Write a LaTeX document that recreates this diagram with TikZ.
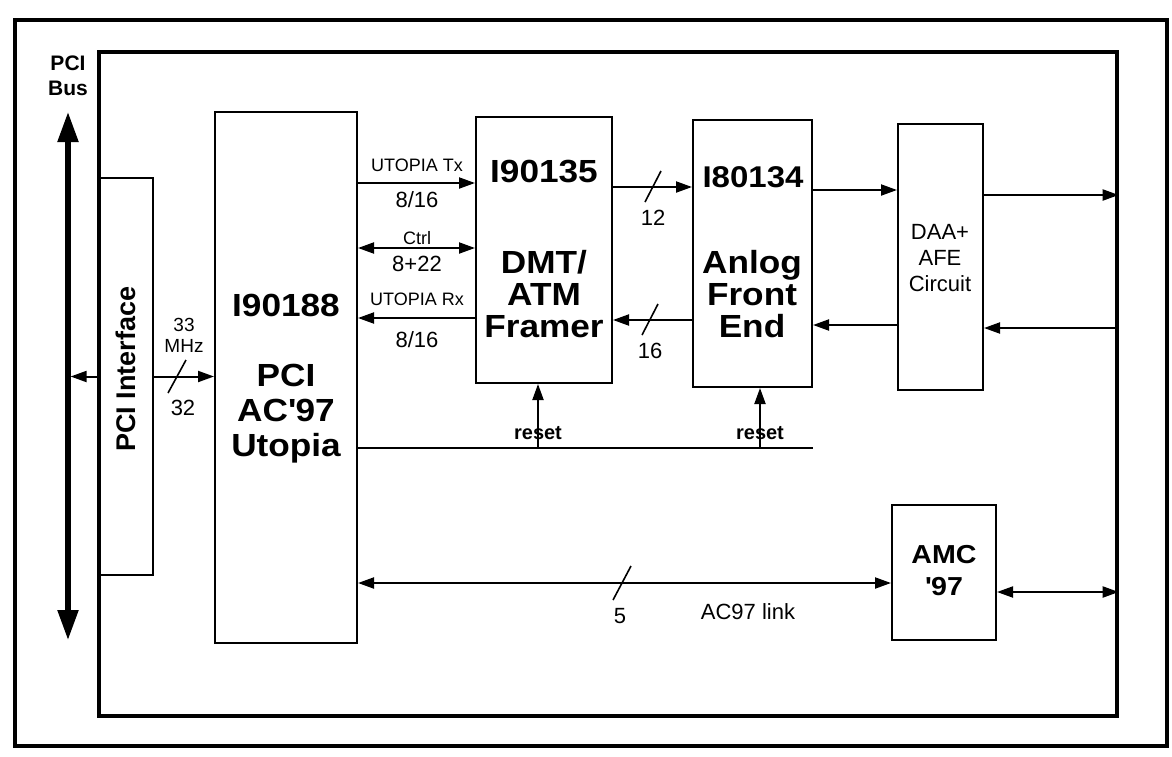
\documentclass[tikz,border=0pt]{standalone}
\usepackage{fontspec}
\setmainfont{Liberation Sans}
\usetikzlibrary{arrows.meta}
\newfontfamily\widebf[FakeStretch=1.1]{Liberation Sans Bold}
\tikzset{
  frame/.style={draw, line width=1.7pt, inner sep=0pt},
  blk/.style={draw, line width=1pt, inner sep=0pt},
  ttl/.style={font=\fontsize{16}{16.2}\selectfont\widebf, align=center, inner sep=0pt},
  sub/.style={font=\fontsize{11}{13}\selectfont, align=center, inner sep=0pt},
  lbl/.style={font=\fontsize{9}{10}\selectfont, align=center, inner sep=0pt},
  num/.style={font=\fontsize{11}{12}\selectfont, inner sep=0pt},
  >={Triangle[length=8pt,width=5.5pt]},
  wire/.style={line width=1pt},
  sig/.style={wire, ->},
  sig2/.style={wire, <->},
  tick/.style={line width=0.8pt},
  bus/.style={line width=2.6pt,
              {Triangle[length=15pt,width=10pt]}-{Triangle[length=15pt,width=10pt]}},
}

\begin{document}
\begin{tikzpicture}[x=0.5pt, y=-0.5pt]
  \useasboundingbox (0,0) rectangle (1172,756);

  % ---- frames ----------------------------------------------------------------
  \draw[line width=2pt] (15,20) rectangle (1167,746);
  \node[frame, minimum width=509pt, minimum height=332pt] (board) at (608,384) {};

  % ---- PCI bus -----------------------------------------------------------------
  \node[font=\fontsize{10.5}{12.5}\selectfont\bfseries, align=center] (tBus) at (68,76) {PCI\\Bus};
  \coordinate (busT) at (68,112);
  \coordinate (busB) at (68,640);
  \draw[bus] (busT) -- (busB);

  % ---- blocks ------------------------------------------------------------------
  \node[blk, minimum width=26.5pt, minimum height=198.5pt] (pciif) at (126.5,376.5) {};
  \node[blk, minimum width=71pt, minimum height=265.5pt] (b188) at (286,377.5) {};
  \node[blk, minimum width=68pt, minimum height=133pt] (b135) at (544,250) {};
  \node[blk, minimum width=59.5pt, minimum height=133.5pt] (b134) at (752.5,253.5) {};
  \node[blk, minimum width=42.5pt, minimum height=133pt] (daa) at (940.5,257) {};
  \node[blk, minimum width=52pt, minimum height=67.5pt] (amc) at (944,572.5) {};

  \node[ttl, font=\fontsize{13.5}{14}\selectfont\bfseries, rotate=90] (tPciIf) at (126,369) {PCI Interface};
  \node[ttl] (t188a) at (286,305) {I90188};
  \node[ttl, font=\fontsize{16}{17.5}\selectfont\widebf] (t188b) at (286,414) {PCI\\AC\textquotesingle 97\\Utopia};
  \node[ttl] (t135a) at (544,172) {I90135};
  \node[ttl] (t135b) at (544,294) {DMT/\\ATM\\Framer};
  \node[ttl, font=\fontsize{15}{16}\selectfont\widebf] (t134a) at (753,177) {I80134};
  \node[ttl] (t134b) at (752,294) {Anlog\\Front\\End};
  \node[sub] (tdaa) at (940,258) {DAA+\\AFE\\Circuit};
  \node[ttl, font=\fontsize{13}{16}\selectfont\widebf] (tamc) at (944,571) {AMC\\\textquotesingle 97};

  % ---- PCI side ----------------------------------------------------------------
  \draw[sig] (pciif.west) -- ([xshift=1.3pt]busT |- pciif.west);
  \draw[sig] (pciif.east) -- (b188.west |- pciif.east);
  \draw[tick] (168,393) -- (186,360);
  \node[lbl, font=\fontsize{9.5}{10.5}\selectfont] (tMhz) at (184,335) {33\\MHz};
  \node[num] (t32) at (183,408) {32};

  % ---- utopia links ------------------------------------------------------------
  \draw[sig] (b188.east |- 0,183) -- (b135.west |- 0,183);
  \node[lbl] (tTx) at (417,165) {UTOPIA Tx};
  \node[num] (tTxW) at (417,200) {8/16};
  \draw[sig2] (b188.east |- 0,248) -- (b135.west |- 0,248);
  \node[lbl] (tCtrl) at (417,238) {Ctrl};
  \node[num] (tCtrlW) at (417,264) {8+22};
  \draw[sig] (b135.west |- 0,318) -- (b188.east |- 0,318);
  \node[lbl] (tRx) at (417,299) {UTOPIA Rx};
  \node[num] (tRxW) at (417,340) {8/16};

  % ---- framer <-> front end ----------------------------------------------------
  \draw[sig] (b135.east |- 0,187) -- (b134.west |- 0,187);
  \draw[tick] (645,202) -- (661,171);
  \node[num] (t12) at (653,218) {12};
  \draw[sig] (b134.west |- 0,320) -- (b135.east |- 0,320);
  \draw[tick] (642,335) -- (658,304);
  \node[num] (t16) at (650,351) {16};

  % ---- line side ---------------------------------------------------------------
  \draw[sig] (b134.east |- 0,190) -- (daa.west |- 0,190);
  \draw[sig] (daa.west |- 0,325) -- (b134.east |- 0,325);
  \draw[sig] (daa.east |- 0,195) -- (board.east |- 0,195);
  \draw[sig] (board.east |- 0,328) -- (daa.east |- 0,328);

  % ---- reset -------------------------------------------------------------------
  \draw[wire] (b188.east |- 0,448) -- (b134.east |- 0,448);
  \draw[sig] ([xshift=-3pt]b135.south |- 0,448) -- ([xshift=-3pt]b135.south);
  \draw[sig] ([xshift=3.75pt]b134.south |- 0,448) -- ([xshift=3.75pt]b134.south);
  \node[num, font=\fontsize{10}{11}\selectfont\bfseries] (tRst1) at (538,433) {reset};
  \node[num, font=\fontsize{10}{11}\selectfont\bfseries] (tRst2) at (760,433) {reset};

  % ---- AC97 link ---------------------------------------------------------------
  \draw[sig2] (b188.east |- 0,583) -- (amc.west |- 0,583);
  \draw[tick] (613,600) -- (631,566);
  \node[num] (t5) at (620,616) {5};
  \node[num] (tLink) at (748,612) {AC97 link};
  \draw[sig2] (amc.east |- 0,592) -- (board.east |- 0,592);
\end{tikzpicture}
\end{document}
